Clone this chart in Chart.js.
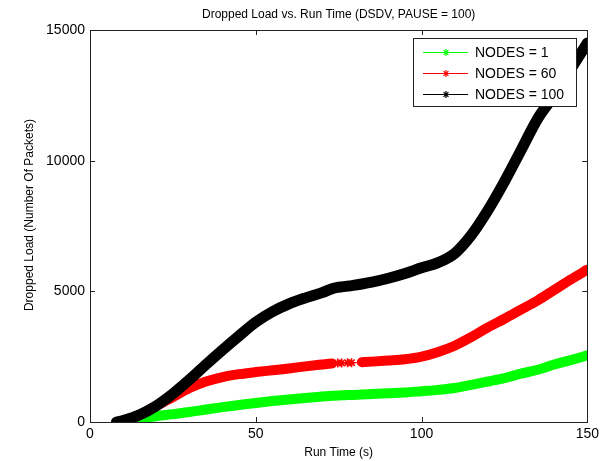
<!DOCTYPE html>
<html>
<head>
<meta charset="utf-8">
<script src="https://cdn.jsdelivr.net/npm/chart.js@4.4.0/dist/chart.umd.min.js"></script>
<style>
    body { margin: 0; background: #ffffff; }
</style>
</head>
<body>
<canvas id="myChart" width="603" height="461"></canvas>
<script>
// ******** DATA ********

const runTimes = [8, 10, 15, 20, 25, 30, 35, 40, 45, 50, 55, 60, 65, 70, 73,
    74.7, 75.9, 77.7, 78.9, 82, 85, 90, 95, 100, 105, 110, 115, 120, 125, 130,
    135, 140, 145, 150];

const droppedNodes1 = [0, 20, 120, 220, 300, 380, 480, 570, 650, 730, 800, 860, 920, 980, 1000,
    1010, 1020, 1030, 1035, 1050, 1070, 1100, 1130, 1180, 1230, 1300, 1420, 1550, 1680, 1850,
    2000, 2200, 2370, 2550];

const droppedNodes60 = [0, 40, 280, 620, 950, 1300, 1550, 1720, 1830, 1910, 1980, 2050, 2130, 2200, 2240,
    2255, 2260, 2265, 2270, 2290, 2310, 2350, 2400, 2500, 2680, 2920, 3250, 3620, 3950, 4300,
    4650, 5050, 5450, 5830];

const droppedNodes100 = [0, 60, 280, 620, 1080, 1620, 2200, 2760, 3300, 3820, 4220, 4520, 4750, 4950, 5100,
    5150, 5170, 5200, 5220, 5280, 5350, 5500, 5680, 5900, 6100, 6450, 7150, 8100, 9200, 10400,
    11600, 12500, 13500, 14500];

const seriesNames = ['NODES = 1', 'NODES = 60', 'NODES = 100'];
const seriesColors = ['#00ff00', '#ff0000', '#000000'];

const xTicks = [0, 50, 100, 150];
const yTicks = [0, 5000, 10000, 15000];

const chartTitle = 'Dropped Load vs. Run Time (DSDV, PAUSE = 100)';
const xLabel = 'Run Time (s)';
const yLabel = 'Dropped Load (Number Of Packets)';

// the NODES = 60 trace only has a few loose samples in this window
const sparseFrom = 73;
const sparseTo = 82;

const FONT = '"Liberation Sans", Arial, sans-serif';

// build {x,y} list for a series
const toPoints = (values) => runTimes.map((t, i) => ({ x: t, y: values[i] }));

const inSparse = (x) => x > sparseFrom && x < sparseTo;

// draw a matlab style '*' marker
function drawStar(ctx, x, y, r, color) {
    ctx.save();
    ctx.strokeStyle = color;
    ctx.lineWidth = 1.2;
    ctx.beginPath();
    ctx.moveTo(x - r, y); ctx.lineTo(x + r, y);
    ctx.moveTo(x, y - r); ctx.lineTo(x, y + r);
    const d = r * 0.7;
    ctx.moveTo(x - d, y - d); ctx.lineTo(x + d, y + d);
    ctx.moveTo(x - d, y + d); ctx.lineTo(x + d, y - d);
    ctx.stroke();
    ctx.restore();
}

// -------- axes box, inward ticks, legend and labels --------
const matlabFrame = {
    id: 'matlabFrame',
    afterDatasetsDraw(chart) {
        const ctx = chart.ctx;
        const area = chart.chartArea;
        const xs = chart.scales.x;
        const ys = chart.scales.y;

        ctx.save();
        ctx.strokeStyle = '#222222';
        ctx.lineWidth = 1;
        ctx.strokeRect(Math.round(area.left) + 0.5, Math.round(area.top) + 0.5,
            Math.round(area.right - area.left), Math.round(area.bottom - area.top));

        ctx.beginPath();
        xTicks.forEach(v => {
            const px = Math.round(xs.getPixelForValue(v)) + 0.5;
            ctx.moveTo(px, area.bottom); ctx.lineTo(px, area.bottom - 5);
            ctx.moveTo(px, area.top); ctx.lineTo(px, area.top + 5);
        });
        yTicks.forEach(v => {
            const py = Math.round(ys.getPixelForValue(v)) + 0.5;
            ctx.moveTo(area.left, py); ctx.lineTo(area.left + 5, py);
            ctx.moveTo(area.right, py); ctx.lineTo(area.right - 5, py);
        });
        ctx.stroke();

        // legend box (top right, over the lines)
        const bx = 413, by = 38, bw = 163, bh = 68;
        ctx.fillStyle = '#ffffff';
        ctx.fillRect(bx, by, bw, bh);
        ctx.strokeStyle = '#222222';
        ctx.strokeRect(bx + 0.5, by + 0.5, bw, bh);

        ctx.font = '14px ' + FONT;
        ctx.textBaseline = 'middle';
        ctx.textAlign = 'left';
        seriesNames.forEach((name, i) => {
            const ry = by + 14 + i * 21;
            ctx.strokeStyle = seriesColors[i];
            ctx.lineWidth = 1;
            ctx.beginPath();
            ctx.moveTo(bx + 10, ry + 0.5);
            ctx.lineTo(bx + 55, ry + 0.5);
            ctx.stroke();
            drawStar(ctx, bx + 33, ry + 0.5, 3.5, seriesColors[i]);
            ctx.fillStyle = '#000000';
            ctx.fillText(name, bx + 62, ry + 1);
        });
        ctx.restore();
    },
    afterDraw(chart) {
        const ctx = chart.ctx;
        const area = chart.chartArea;
        ctx.save();
        ctx.fillStyle = '#000000';
        ctx.font = '12px ' + FONT;
        ctx.textAlign = 'center';
        ctx.textBaseline = 'middle';
        ctx.fillText(chartTitle, (area.left + area.right) / 2, 15);

        ctx.translate(30, 215);
        ctx.rotate(-Math.PI / 2);
        ctx.fillText(yLabel, 0, 0);
        ctx.restore();
    }
};

const lineDataset = (idx, values, order) => ({
    label: seriesNames[idx],
    data: toPoints(values),
    borderColor: seriesColors[idx],
    backgroundColor: seriesColors[idx],
    borderWidth: idx === 2 ? 11 : 10,
    borderCapStyle: 'round',
    borderJoinStyle: 'round',
    cubicInterpolationMode: 'monotone',
    pointRadius: 0,
    order: order
});

const dsNodes60 = lineDataset(1, droppedNodes60, 2);
dsNodes60.segment = {
    borderWidth: (c) => (c.p0.parsed.x >= sparseFrom && c.p1.parsed.x <= sparseTo) ? 1 : 10
};
dsNodes60.pointStyle = 'star';
dsNodes60.pointBorderColor = seriesColors[1];
dsNodes60.pointBorderWidth = 1.6;
dsNodes60.pointRadius = (c) => (c.raw && inSparse(c.raw.x)) ? 4.5 : 0;

const ctx = document.getElementById('myChart');

mychartView = new Chart(ctx, {
    type: 'line',
    data: {
        datasets: [
            lineDataset(0, droppedNodes1, 3),
            dsNodes60,
            lineDataset(2, droppedNodes100, 1)
        ]
    },
    options: {
        responsive: false,
        animation: false,
        devicePixelRatio: 1,
        layout: {
            padding: { top: 30, right: 15, left: 0, bottom: 0 }
        },
        plugins: {
            legend: { display: false },
            tooltip: { enabled: false },
            title: { display: false }
        },
        scales: {
            x: {
                type: 'linear',
                min: 0,
                max: 150,
                afterBuildTicks: (scale) => { scale.ticks = xTicks.map(v => ({ value: v })); },
                afterFit: (scale) => { scale.height = 39; },
                grid: { display: false, drawTicks: false },
                border: { display: false },
                ticks: {
                    padding: 4,
                    color: '#000000',
                    font: { family: FONT, size: 14 },
                    maxRotation: 0,
                    callback: (v) => String(v)
                },
                title: {
                    display: true,
                    text: xLabel,
                    color: '#000000',
                    font: { family: FONT, size: 12 },
                    padding: { top: 0, bottom: 1 }
                }
            },
            y: {
                type: 'linear',
                min: 0,
                max: 15000,
                afterBuildTicks: (scale) => { scale.ticks = yTicks.map(v => ({ value: v })); },
                afterFit: (scale) => { scale.width = 90; },
                grid: { display: false, drawTicks: false },
                border: { display: false },
                ticks: {
                    padding: 5,
                    color: '#000000',
                    font: { family: FONT, size: 14 },
                    callback: (v) => String(v)
                }
            }
        }
    },
    plugins: [matlabFrame]
});
</script>
</body>
</html>
